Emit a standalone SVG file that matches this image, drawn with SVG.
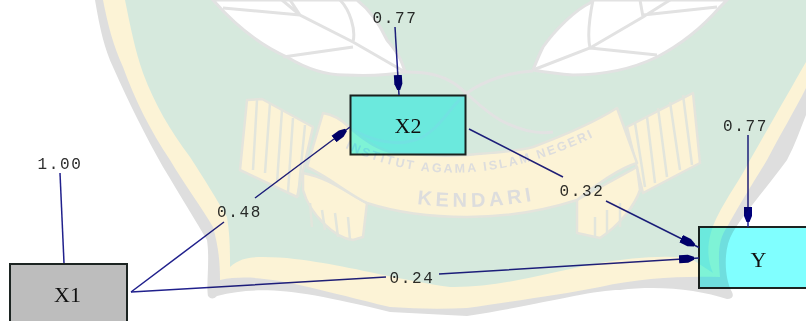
<svg xmlns="http://www.w3.org/2000/svg" width="806" height="321" viewBox="0 0 806 321">
<style>
.box{stroke:#1c2422;stroke-width:2}
.lbl{font-family:"Liberation Mono",monospace;font-size:16px;letter-spacing:1.7px;fill:#2e2e2e;text-anchor:middle}
.name{font-family:"Liberation Serif",serif;font-size:22px;fill:#111;text-anchor:middle}
.conn{fill:none;stroke:#20208c;stroke-width:1.5}
.wm{mix-blend-mode:multiply}
.vein{fill:none;stroke:#e2e2e2;stroke-width:3}
.rib{fill:#fcf3d6;stroke:#e4e4dc;stroke-width:2.500;stroke-linejoin:round}
.stripe{fill:none;stroke:#e2e5dc;stroke-width:2.500}
.wmt{font-family:"Liberation Sans",sans-serif;font-weight:bold;fill:#dddddd}
</style>
<defs>
<marker id="head" viewBox="0 0 20 9" refX="20" refY="4.500" markerWidth="20" markerHeight="9" markerUnits="userSpaceOnUse" orient="auto">
<path d="M0 0.500H9L15 3V6L9 8.500H0Z" fill="#00007a"/>
</marker>
<path id="arcA" d="M345 148Q470 208 622 122"/>
<path id="arcB" d="M417 204Q480 212 548 198"/>
</defs>
<rect width="806" height="321" fill="#fff"/>
<g id="node-x1"><rect class="box" x="10" y="264" width="117" height="60" fill="#bdbdbd"/><text class="name" x="67.500" y="302">X1</text></g>
<g id="node-x2"><rect class="box" x="350.500" y="95.500" width="115" height="59" fill="#80ffff"/><text class="name" x="408" y="133">X2</text></g>
<g id="node-y"><rect class="box" x="699" y="227" width="110" height="61" fill="#80ffff"/><text class="name" x="758.500" y="267">Y</text></g>
<g id="connectors">
<path class="conn" d="M395 27L399 95" marker-end="url(#head)"/>
<path class="conn" d="M60 173L64 263"/>
<path class="conn" d="M131 292L224 222M255 198L350 127" marker-end="url(#head)"/>
<path class="conn" d="M131 292L386 277M439 274L699 258" marker-end="url(#head)"/>
<path class="conn" d="M469 129L563 177M606 201L699 247.500" marker-end="url(#head)"/>
<path class="conn" d="M748 135V227" marker-end="url(#head)"/>
</g>
<g id="labels">
<text class="lbl" x="395" y="23">0.77</text>
<text class="lbl" x="60" y="169">1.00</text>
<text class="lbl" x="239.500" y="217">0.48</text>
<text class="lbl" x="412" y="283">0.24</text>
<text class="lbl" x="582" y="196">0.32</text>
<text class="lbl" x="745.500" y="130.500">0.77</text>
</g>
<g id="watermark" class="wm">
<path d="M95 0C100 30 105 50 113 67C130 105 145 135 163 167C180 195 195 220 207 240C210 260 206 285 208 296Q212 301 217 296C260 285 300 290 390 312L467 316C540 305 590 290 620 290C660 285 700 290 727 299Q735 299 732 292C725 280 722 250 733 232C745 212 765 190 787 160C795 145 800 130 806 115V0Z" fill="#dedede"/>
<path d="M103 0C108 25 113 45 123 67C135 100 150 130 170 160C185 185 200 205 213 227C218 245 220 260 220 280C260 272 300 285 390 307Q430 310 467 308C520 300 560 295 600 287C640 278 680 276 720 277C718 255 718 240 727 227C745 195 755 180 767 160C780 135 795 110 806 88V0Z" fill="#fcf3d6"/>
<path d="M125 0C130 25 135 50 143 73C155 105 170 130 190 157C205 180 217 200 227 217C230 235 230 250 230 267C240 258 250 257 263 257C285 257 305 260 323 263C355 268 400 280 450 287C500 288 550 272 600 263C630 258 660 255 690 258L713 273C705 255 708 235 717 217C728 195 740 180 750 160C770 125 790 90 806 62V0Z" fill="#d6e9dd"/>
<path d="M213 0C235 25 260 45 287 57C305 68 325 75 345 75C370 76 390 75 405 72C400 55 395 50 387 40C380 25 370 10 357 0Z" fill="#fff" stroke="#e2e2e2" stroke-width="3"/>
<path class="vein" d="M405 72L353 42L300 15L290 0M300 15L282 0M300 15L223 8M353 42C356 30 350 10 340 0M353 47L283 57"/>
<path d="M533 70C537 60 540 53 543 47C555 30 575 10 590 3L593 0H727L720 7C700 30 680 45 657 57C630 70 600 75 573 75C560 74 545 72 533 70Z" fill="#fff" stroke="#e2e2e2" stroke-width="3"/>
<path class="vein" d="M533 70L590 48L643 17L670 0M590 48C587 35 590 15 593 0M590 48L657 55M643 17L640 0M643 15L717 7"/>
<path class="vein" d="M405 72C425 72 440 74 455 84C470 95 480 108 500 120C515 128 535 135 553 132M353 130C375 142 395 146 415 140C440 132 450 105 467 93C485 80 510 72 533 71"/>
<path class="rib" d="M247 100L262 99L313 127L297 197L240 170Z"/>
<path class="stripe" d="M257 100L253 170M270 103L265 173M282 110L277 183M293 118L288 192M305 125L298 197"/>
<path class="rib" d="M627 127L693 93L700 163L643 193Z"/>
<path class="stripe" d="M635 123L645 187M647 117L655 183M658 108L667 177M670 102L680 170M683 95L692 165"/>
<path class="rib" d="M303 173C330 178 350 195 367 203L363 237L353 240C335 238 310 215 303 190Z"/>
<path class="stripe" d="M310 203L312 227M322 210L325 230M335 213L338 237M348 217L350 240"/>
<path class="rib" d="M577 200L577 233L600 238C620 225 635 205 640 190L637 167Z"/>
<path class="stripe" d="M595 217L595 237M607 210L607 233M620 203L620 227"/>
<path class="rib" d="M323 113Q337 115 350 128C370 145 385 153 400 153Q435 157 467 155C490 153 515 152 533 147C565 135 595 122 617 108L637 163C620 168 595 185 577 200C540 212 505 217 467 217C430 217 395 212 367 203C350 195 330 178 307 167Z"/>
<text class="wmt" font-size="12.500" letter-spacing="2.200"><textPath href="#arcA">INSTITUT AGAMA ISLAM NEGERI</textPath></text>
<text class="wmt" font-size="20" letter-spacing="4"><textPath href="#arcB">KENDARI</textPath></text>
</g>
</svg>
